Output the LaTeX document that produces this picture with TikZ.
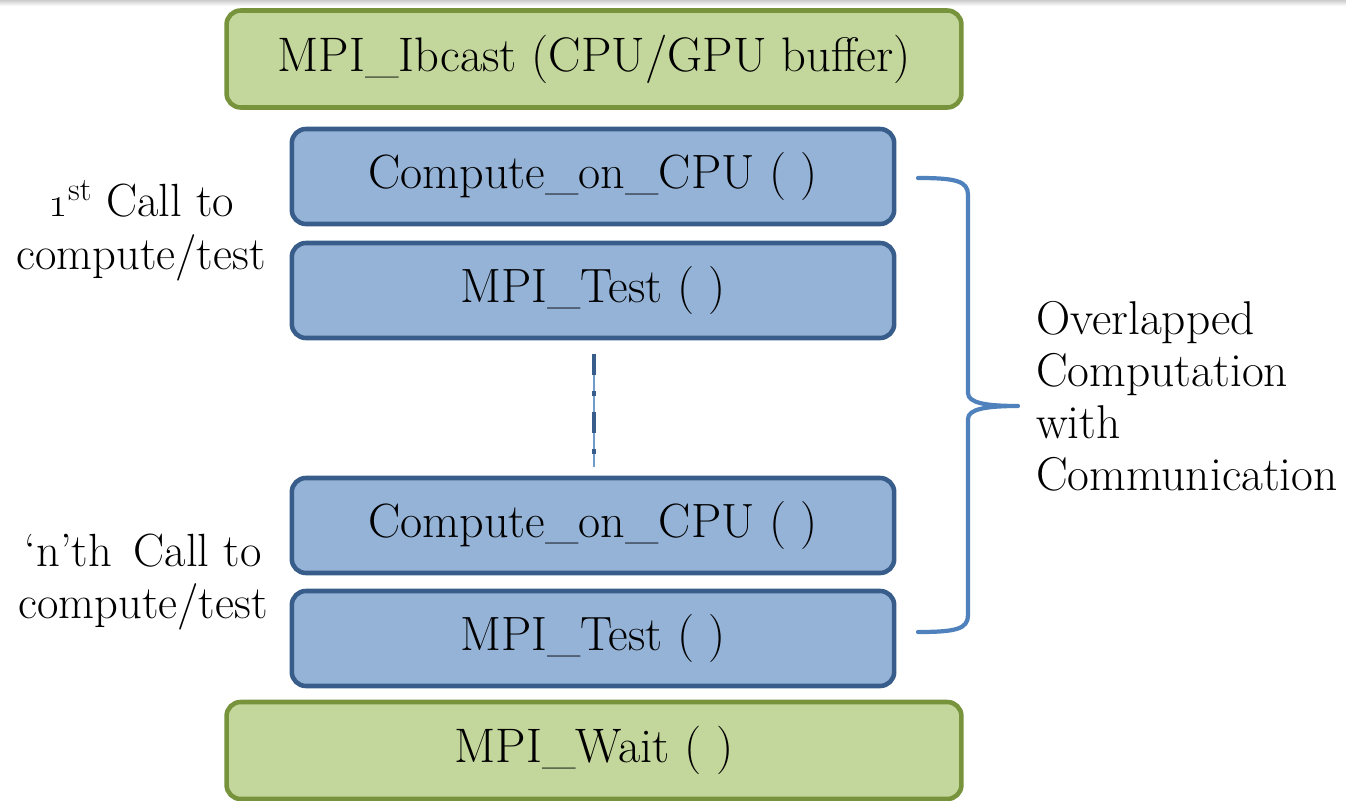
\documentclass[tikz,border=0pt]{standalone}
\usepackage{xcolor}
\definecolor{mpigreen}{RGB}{195,214,155}
\definecolor{mpigreenline}{RGB}{119,147,60}
\definecolor{mpiblue}{RGB}{149,179,215}
\definecolor{mpiblueline}{RGB}{56,93,138}
\definecolor{braceblue}{RGB}{79,129,189}
\usepackage{tikz}
\usetikzlibrary{positioning,calc}

\begin{document}
\begin{tikzpicture}[
  x=0.02cm, y=-0.02cm,
  greenbox/.style={rectangle, rounded corners=8pt, draw=mpigreenline, line width=2.6pt,
                   fill=mpigreen, minimum width=14.7cm, minimum height=1.94cm,
                   font=\fontsize{27.6}{32}\selectfont, text=black},
  bluebox/.style={rectangle, rounded corners=8pt, draw=mpiblueline, line width=2.6pt,
                  fill=mpiblue, minimum width=12.05cm, minimum height=1.9cm,
                  font=\fontsize{27.4}{32}\selectfont, text=black},
  calltext/.style={align=center, font=\fontsize{26.5}{30}\selectfont},
  notetext/.style={align=left, anchor=west, font=\fontsize{27}{29.5}\selectfont},
  bracepath/.style={draw=braceblue, line width=2.4pt, line cap=round, line join=round}
]
\useasboundingbox (0,0) rectangle (1346,801);
% slide edge
\shade[top color=gray!40, bottom color=white, draw=none] (0,0) rectangle (1346,6);

% Stack of calls
\node[greenbox] (ibcast) at (594, 59)    {MPI\_Ibcast (CPU/GPU buffer)};
\node[bluebox]  (comp1)  at (593, 176.5) {Compute\_on\_CPU ( )};
\node[bluebox]  (test1)  at (593, 290.5) {MPI\_Test ( )};
\node[bluebox]  (compn)  at (593, 525.5) {Compute\_on\_CPU ( )};
\node[bluebox]  (testn)  at (593, 638.5) {MPI\_Test ( )};
\node[greenbox] (wait)   at (594, 750.5) {MPI\_Wait ( )};

% Dots between first and n-th call
\coordinate (gaptop) at ($(test1.south)+(1,14)$);
\coordinate (gapbot) at ($(compn.north)+(1,-9)$);
\draw[braceblue!80, line width=0.6pt] (gaptop) -- (gapbot);
\draw[mpiblueline, line width=2.8pt, dash pattern=on 11.9pt off 9.1pt on 2.8pt off 9.1pt] (gaptop) -- (gapbot);

% Left labels
\node[calltext] (first) at (141, 231) {\oldstylenums{1}\textsuperscript{st} Call to\\compute/test};
\node[calltext] (nth)   at (143, 582) {`n'th\, Call to\\compute/test};

% Brace
\coordinate (bracetop) at (918,178);
\coordinate (bracebot) at (918,632);
\coordinate (bracetip) at (1018,406);
\draw[bracepath] (bracetop) .. controls +(38,0) and +(0,-14) .. ++(50,17)
  -- (968,393) .. controls +(0,10) and +(-32,0) .. (bracetip)
  .. controls +(-32,0) and +(0,-10) .. (968,419)
  -- (968,615) .. controls +(0,14) and +(38,0) .. (bracebot);

% Brace label
\node[notetext, right=12 of bracetip, yshift=5.5pt] (overlap) {Overlapped\\Computation\\with\\Communication};
\end{tikzpicture}
\end{document}
